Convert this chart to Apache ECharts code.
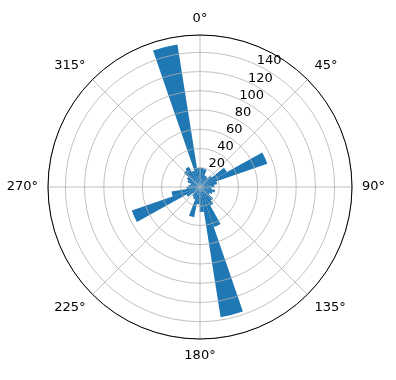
<!DOCTYPE html>
<html>
<head>
<meta charset="utf-8">
<script src="https://cdn.jsdelivr.net/npm/echarts@6/dist/echarts.min.js"></script>
<style>
html, body { margin: 0; padding: 0; background: #fff; }
#chart { width: 396px; height: 380px; }
</style>
</head>
<body>
<div id="chart"></div>
<script>
// 36 direction bins of 10 degrees, named by their centre (deg, clockwise from north)
const binCenters = ['6', '16', '26', '36', '46', '56', '66', '76', '86', '96', '106', '116',
  '126', '136', '146', '156', '166', '176', '186', '196', '206', '216', '226', '236',
  '246', '256', '266', '276', '286', '296', '306', '316', '326', '336', '346', '356'];
const binCounts = [20, 19, 13, 12, 16, 32, 74, 18, 15, 12, 16, 14,
  12, 18, 22, 44, 137, 26, 18, 32, 14, 12, 10, 16,
  75, 30, 14, 12, 10, 14, 16, 22, 24, 18, 150, 20];
const radiusMax = 158;

const cx = 200, cy = 187, R = 152;
const font = 'DejaVu Sans';
const gridColor = '#b0b0b0';

const chart = echarts.init(document.getElementById('chart'));
chart.setOption({
  animation: false,
  polar: [
    { center: [cx, cy], radius: R },          // grid + degree labels
    { center: [cx, cy], radius: R },          // bars
    { center: [cx + 8, cy - 6], radius: R }   // radius labels, sitting beside the 22.5 deg line
  ],
  angleAxis: [
    {
      polarIndex: 0, type: 'value', min: 0, max: 360, interval: 45,
      startAngle: 90, clockwise: true, z: 5,
      axisLine: { lineStyle: { color: '#000', width: 1 } },
      axisTick: { show: false },
      axisLabel: { formatter: v => v + '°', color: '#000', fontSize: 13, fontFamily: font, margin: 10 },
      splitLine: { lineStyle: { color: gridColor, width: 0.8 } }
    },
    {
      polarIndex: 1, type: 'category', data: binCenters,
      startAngle: 89, clockwise: true, show: false
    },
    {
      polarIndex: 2, type: 'value', min: 0, max: 360,
      startAngle: 63, clockwise: true, show: false
    }
  ],
  radiusAxis: [
    {
      polarIndex: 0, min: 0, max: radiusMax, interval: 20, z: 5,
      axisLine: { show: false }, axisTick: { show: false }, axisLabel: { show: false },
      splitLine: { lineStyle: { color: gridColor, width: 0.8 } }
    },
    { polarIndex: 1, min: 0, max: radiusMax, show: false },
    {
      polarIndex: 2, min: 0, max: radiusMax, interval: 20, z: 6,
      axisLine: { show: false }, axisTick: { show: false }, splitLine: { show: false },
      axisLabel: {
        formatter: v => (v === 0 || v > 150) ? '' : String(v),
        color: '#000', fontSize: 13, fontFamily: font,
        margin: 0, align: 'center', verticalAlign: 'middle'
      }
    }
  ],
  series: [{
    type: 'bar',
    coordinateSystem: 'polar',
    polarIndex: 1,
    data: binCounts,
    barCategoryGap: '0%',
    z: 1,
    itemStyle: { color: '#1f77b4' }
  }]
});
</script>
</body>
</html>
